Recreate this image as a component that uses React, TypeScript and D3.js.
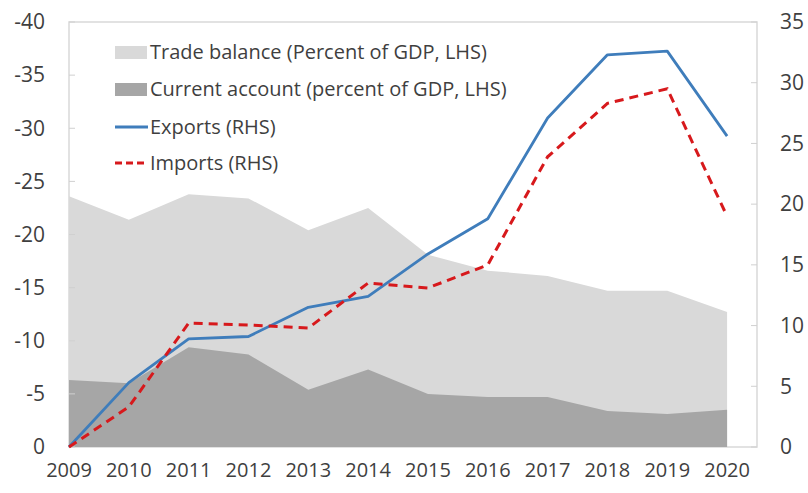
import React from "react";
import * as d3 from "d3";

const years = [2009, 2010, 2011, 2012, 2013, 2014, 2015, 2016, 2017, 2018, 2019, 2020];
const tradeBalance = [-23.6, -21.4, -23.8, -23.4, -20.4, -22.5, -18.1, -16.6, -16.1, -14.7, -14.7, -12.7];
const currentAccount = [-6.3, -6.0, -9.4, -8.7, -5.4, -7.3, -5.0, -4.7, -4.7, -3.4, -3.1, -3.5];
const exportsRHS = [0, 5.3, 8.9, 9.1, 11.5, 12.4, 15.9, 18.8, 27.1, 32.3, 32.6, 25.6];
const importsRHS = [0, 3.3, 10.2, 10.05, 9.8, 13.5, 13.1, 15.0, 23.9, 28.3, 29.5, 19.0];
const leftTicks = [0, -5, -10, -15, -20, -25, -30, -35, -40];
const rightTicks = [0, 5, 10, 15, 20, 25, 30, 35];
const legendLabels = [
  "Trade balance (Percent of GDP, LHS)",
  "Current account (percent of GDP, LHS)",
  "Exports (RHS)",
  "Imports (RHS)",
];

const W = 808;
const H = 493;
const L = 69;
const R = 757;
const T = 22;
const B = 447;
const FONT = "'Open Sans', 'Noto Sans', sans-serif";
const TXT = "#3f3f3f";

export default function App() {
  const x = d3.scaleLinear().domain([2009, 2020.5]).range([L, R]);
  const yL = d3.scaleLinear().domain([0, -40]).range([B, T]);
  const yR = d3.scaleLinear().domain([0, 35]).range([B, T]);

  const areaTB = d3
    .area<number>()
    .x((_, i) => x(years[i]))
    .y0(yL(0))
    .y1((d) => yL(d));
  const lineR = d3
    .line<number>()
    .x((_, i) => x(years[i]))
    .y((d) => yR(d));

  return (
    <svg
      width={W}
      height={H}
      style={{ position: "absolute", left: 0, top: 0, background: "#fff" }}
      fontFamily={FONT}
    >
      <rect x={L} y={T} width={R - L} height={B - T} fill="none" stroke="#d9d9d9" strokeWidth={1.5} />
      <path d={areaTB(tradeBalance) || ""} fill="#d9d9d9" />
      <path d={areaTB(currentAccount) || ""} fill="#a6a6a6" />
      {leftTicks.map((t) => (
        <line key={"lt" + t} x1={L} x2={L + 6} y1={yL(t)} y2={yL(t)} stroke="#d0d0d0" strokeWidth={1} />
      ))}
      {rightTicks.map((t) => (
        <line key={"rt" + t} x1={R - 6} x2={R} y1={yR(t)} y2={yR(t)} stroke="#d0d0d0" strokeWidth={1} />
      ))}
      <path d={lineR(exportsRHS) || ""} fill="none" stroke="#3f7dbb" strokeWidth={2.8} strokeLinejoin="round" />
      <path
        d={lineR(importsRHS) || ""}
        fill="none"
        stroke="#d7191c"
        strokeWidth={3}
        strokeDasharray="9,6"
      />
      {leftTicks.map((t) => (
        <text key={"ll" + t} x={45} y={yL(t)} dy="0.35em" textAnchor="end" fontSize={21} fill={TXT}>
          {t}
        </text>
      ))}
      {rightTicks.map((t) => (
        <text key={"rl" + t} x={780} y={yR(t)} dy="0.35em" textAnchor="start" fontSize={21} fill={TXT}>
          {t}
        </text>
      ))}
      {years.map((yv) => (
        <text key={"x" + yv} x={x(yv)} y={477} textAnchor="middle" fontSize={20} fill={TXT}>
          {yv}
        </text>
      ))}
      {legendLabels.map((lab, i) => {
        const cy = [52, 89, 127, 163][i];
        return (
          <g key={lab}>
            {i === 0 && <rect x={115} y={cy - 6} width={32} height={13} fill="#d9d9d9" />}
            {i === 1 && <rect x={115} y={cy - 6} width={32} height={13} fill="#a6a6a6" />}
            {i === 2 && <line x1={115} x2={148} y1={cy} y2={cy} stroke="#3f7dbb" strokeWidth={2.8} />}
            {i === 3 && (
              <line x1={115} x2={148} y1={cy} y2={cy} stroke="#d7191c" strokeWidth={3} strokeDasharray="7,4" />
            )}
            <text x={150} y={cy} dy="0.35em" fontSize={20} fill={TXT}>
              {lab}
            </text>
          </g>
        );
      })}
    </svg>
  );
}
